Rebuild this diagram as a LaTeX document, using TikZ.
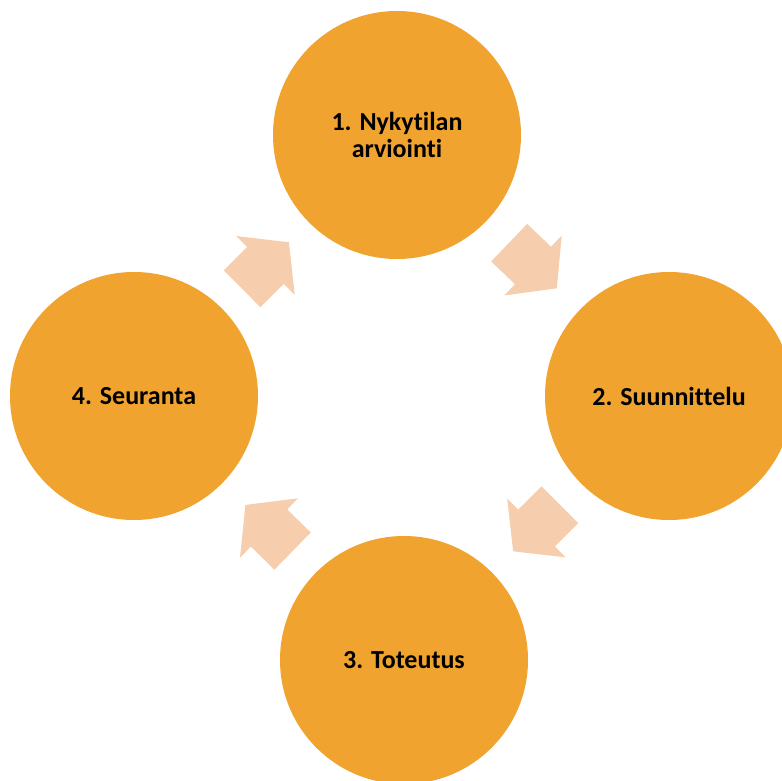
\documentclass[tikz,border=0pt]{standalone}
\usepackage{fontspec}
\setmainfont[RawFeature=-liga]{Carlito}
\usetikzlibrary{calc}
\definecolor{phaseorange}{HTML}{F0A32F}
\definecolor{flowpeach}{HTML}{F6CEAD}

\begin{document}
\begin{tikzpicture}[x=0.5pt,y=-0.5pt,
  phase/.style={circle,fill=phaseorange,minimum size=124pt,inner sep=0pt,align=center,font=\bfseries\fontsize{13}{13.7}\selectfont},
  flow/.style={fill=flowpeach}]
  \useasboundingbox (0,0) rectangle (782,781);
  \clip (0,0) rectangle (782,781);
  \node[phase] (n1) at (397,135) {1. Nykytilan\\arviointi};
  \node[phase] (n2) at (669,396) {2. Suunnittelu};
  \node[phase] (n3) at (404,660) {3. Toteutus};
  \node[phase] (n4) at (134,396) {4. Seuranta};
  % block arrows between the phases
  \foreach \a/\b in {n1/n2,n2/n3,n3/n4,n4/n1}
    \fill[flow] let \p1=($(\b)-(\a)$), \p2=($(\a)!0.5!(\b)$), \n1={atan2(\y1,\x1)} in
      [shift={(\p2)},rotate=\n1] (-33,-26) -- (0,-26) -- (0,-41.5) -- (33,0)
      -- (0,41.5) -- (0,26) -- (-33,26) -- cycle;
\end{tikzpicture}
\end{document}
